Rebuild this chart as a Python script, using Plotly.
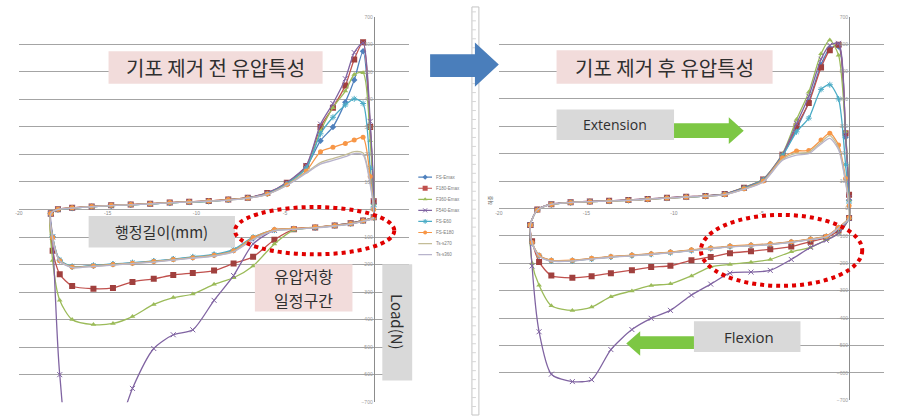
import plotly.graph_objects as go

W, H = 906, 418

# ---------------- data ----------------
series_names = ["FS-Emax", "F180-Emax", "F360-Emax", "F540-Emax", "FS-E60", "FS-E180", "Ts-s270", "Ts-s360"]
series_colors = ["#4F81BD", "#C0504D", "#9BBB59", "#8064A2", "#4BACC6", "#F79646", "#C4BD97", "#B8B4CC"]
series_symbols = ["diamond", "square", "triangle-up", "x-thin-open", "asterisk-open", "circle", None, None]
series_msize = [5, 6, 5, 5, 5, 5, 0, 0]

ext_x = [-18.2, -17.8, -17.0, -15.9, -14.8, -13.7, -12.6, -11.5, -10.4, -9.3, -8.2,
         -7.1, -6.0, -4.9, -3.8, -3.0, -2.3, -1.6, -1.1, -0.6, -0.2, 0.0]
flex_x = [0.0, -0.6, -1.3, -2.2, -3.3, -4.5, -5.6, -6.8, -7.9, -9.0, -10.2,
          -11.3, -12.4, -13.6, -14.7, -15.8, -17.0, -17.7, -18.1, -18.2]

# Left chart (before bubble removal) - extension branch
L_ext_fs_emax = [-15, 0, 5, 10, 14, 17, 20, 24, 27, 30, 35, 42, 58, 95, 155, 250, 300, 390, 470, 575, 300, 20]
L_ext_f180 = [-15, 1, 6, 11, 15, 18, 21, 25, 28, 31, 36, 43, 60, 97, 158, 300, 370, 450, 545, 608, 300, 30]
L_ext_f360 = [-15, 0, 5, 10, 14, 17, 20, 24, 27, 30, 35, 42, 58, 94, 152, 285, 370, 430, 490, 497, 250, 20]
L_ext_f540 = [-15, 1, 6, 11, 15, 18, 21, 25, 28, 31, 36, 43, 60, 98, 160, 310, 385, 475, 570, 605, 320, 30]
L_ext_fs_e60 = [-15, 0, 5, 10, 14, 17, 20, 24, 27, 30, 35, 42, 57, 93, 150, 275, 335, 380, 402, 385, 150, 10]
L_ext_fs_e180 = [-15, 1, 6, 11, 15, 18, 21, 25, 28, 31, 36, 42, 56, 90, 140, 210, 226, 240, 252, 262, 120, 0]
L_ext_ts270 = [-15, 0, 5, 10, 14, 17, 20, 24, 27, 30, 34, 41, 55, 88, 135, 170, 185, 198, 210, 205, 100, 0]
L_ext_ts360 = [-15, 0, 5, 10, 14, 17, 20, 24, 27, 30, 34, 41, 55, 87, 132, 165, 178, 192, 203, 198, 90, -5]

# Left chart - flexion branch
L_flex_fs_emax = [-28, -40, -50, -58, -65, -70, -74, -105, -148, -165, -174, -181, -188, -194, -199, -204, -208, -185, -100, -15]
L_flex_f180 = [-28, -40, -50, -58, -65, -72, -110, -172, -196, -222, -231, -238, -252, -263, -285, -288, -278, -235, -150, -15]
L_flex_f360 = [-28, -40, -50, -58, -66, -75, -125, -205, -248, -272, -307, -320, -345, -389, -414, -418, -400, -330, -185, -15]
L_flex_f540 = [-28, -40, -50, -58, -65, -70, -76, -125, -240, -330, -437, -455, -505, -650, -850, -960, -920, -600, -100, -15]
L_flex_fs_e60 = [-30, -42, -52, -59, -66, -71, -75, -100, -145, -163, -172, -180, -187, -193, -198, -203, -207, -183, -98, -15]
L_flex_fs_e180 = [-30, -41, -51, -58, -64, -69, -73, -102, -150, -166, -175, -182, -189, -195, -200, -205, -209, -186, -102, -15]
L_flex_ts270 = [-30, -42, -52, -59, -66, -71, -76, -108, -152, -168, -176, -183, -190, -196, -201, -206, -210, -187, -104, -15]
L_flex_ts360 = [-30, -43, -53, -60, -67, -72, -77, -110, -154, -169, -177, -184, -191, -197, -202, -207, -211, -188, -105, -15]

# Right chart (after bubble removal) - extension branch
R_ext_fs_emax = [-60, -5, 15, 22, 25, 27, 30, 34, 38, 42, 45, 52, 75, 105, 195, 290, 390, 525, 585, 592, 260, 30]
R_ext_f180 = [-60, -4, 16, 23, 26, 28, 31, 35, 39, 43, 46, 53, 76, 106, 196, 300, 385, 515, 578, 598, 275, 50]
R_ext_f360 = [-60, -5, 15, 22, 25, 27, 30, 34, 38, 42, 45, 53, 77, 108, 200, 325, 425, 565, 615, 560, 280, 30]
R_ext_f540 = [-60, -4, 16, 23, 26, 28, 31, 35, 39, 43, 46, 53, 76, 107, 198, 310, 410, 545, 596, 603, 270, 40]
R_ext_fs_e60 = [-60, -5, 15, 22, 25, 27, 30, 34, 38, 42, 45, 52, 74, 104, 192, 280, 330, 435, 452, 400, 160, 20]
R_ext_fs_e180 = [-60, -5, 15, 22, 25, 27, 30, 34, 38, 42, 45, 51, 72, 100, 185, 210, 212, 250, 275, 232, 110, 10]
R_ext_ts270 = [-60, -5, 15, 22, 25, 27, 30, 34, 38, 42, 45, 51, 71, 98, 180, 202, 206, 242, 266, 222, 100, 5]
R_ext_ts360 = [-60, -5, 15, 22, 25, 27, 30, 34, 38, 42, 45, 51, 70, 97, 176, 195, 200, 236, 256, 215, 95, 0]

# Right chart - flexion branch
R_flex_fs_emax = [-35, -70, -102, -112, -122, -130, -134, -138, -145, -152, -160, -166, -171, -176, -183, -190, -190, -172, -125, -60]
R_flex_f180 = [-35, -80, -106, -121, -139, -149, -156, -163, -177, -189, -209, -214, -225, -236, -247, -253, -245, -195, -120, -60]
R_flex_f360 = [-35, -90, -114, -142, -158, -186, -196, -204, -213, -246, -275, -281, -301, -322, -360, -372, -355, -280, -200, -60]
R_flex_f540 = [-35, -90, -116, -142, -186, -226, -232, -236, -276, -316, -372, -401, -442, -515, -625, -632, -605, -450, -210, -60]
R_flex_fs_e60 = [-36, -72, -103, -113, -123, -131, -135, -139, -146, -153, -161, -167, -172, -177, -184, -191, -191, -173, -126, -60]
R_flex_fs_e180 = [-34, -69, -101, -111, -121, -129, -133, -137, -144, -151, -159, -165, -170, -175, -182, -189, -189, -171, -124, -60]
R_flex_ts270 = [-36, -71, -103, -113, -123, -131, -135, -139, -146, -153, -161, -167, -172, -177, -184, -191, -191, -173, -126, -60]
R_flex_ts360 = [-37, -72, -104, -114, -124, -132, -136, -140, -147, -154, -162, -168, -173, -178, -185, -192, -192, -174, -127, -60]

left_ext = [L_ext_fs_emax, L_ext_f180, L_ext_f360, L_ext_f540, L_ext_fs_e60, L_ext_fs_e180, L_ext_ts270, L_ext_ts360]
left_flex = [L_flex_fs_emax, L_flex_f180, L_flex_f360, L_flex_f540, L_flex_fs_e60, L_flex_fs_e180, L_flex_ts270, L_flex_ts360]
right_ext = [R_ext_fs_emax, R_ext_f180, R_ext_f360, R_ext_f540, R_ext_fs_e60, R_ext_fs_e180, R_ext_ts270, R_ext_ts360]
right_flex = [R_flex_fs_emax, R_flex_f180, R_flex_f360, R_flex_f540, R_flex_fs_e60, R_flex_fs_e180, R_flex_ts270, R_flex_ts360]

y_ticks = list(range(-700, 701, 100))
x_ticks = [-20, -15, -10, -5]
x_tick_text = ["-20", "-15", "-10", "-5"]

title_before = "기포 제거 전 유압특성"
title_after = "기포 제거 후 유압특성"
stroke_label = "행정길이(mm)"
const_label_1 = "유압저항"
const_label_2 = "일정구간"
load_label = "Load(N)"
ext_label = "Extension"
flex_label = "Flexion"
right_ytitle = "하중"


# ---------------- helpers (pixel -> paper) ----------------
def fx(px):
    return px / W


def fy(py):
    return 1 - py / H


def path(points):
    return "M " + " L ".join(f"{fx(a):.5f},{fy(b):.5f}" for a, b in points) + " Z"


fig = go.Figure()


def add_series(xref, yref, ext, flex):
    for i in range(len(series_names)):
        xs = ext_x + flex_x
        ys = ext[i] + flex[i]
        sym = series_symbols[i]
        mode = "lines+markers" if sym else "lines"
        mk = dict(color=series_colors[i], size=series_msize[i])
        if sym:
            mk["symbol"] = sym
            if "open" in sym:
                mk["line"] = dict(color=series_colors[i], width=1)
        if i == 1:
            mk["color"] = "#A0403E"
        fig.add_trace(go.Scatter(
            x=xs, y=ys, xaxis=xref, yaxis=yref, mode=mode,
            line=dict(color=series_colors[i], width=1.3, shape="spline", smoothing=0.7),
            marker=mk, name=series_names[i], showlegend=False, hoverinfo="skip"))


add_series("x", "y", left_ext, left_flex)
add_series("x2", "y2", right_ext, right_flex)

# ---------------- manual legend (left chart) ----------------
for i in range(len(series_names)):
    sym = series_symbols[i]
    row = i + 1
    fig.add_trace(go.Scatter(x=[0.0, 1.0], y=[row, row], xaxis="x3", yaxis="y3", mode="lines",
                             line=dict(color=series_colors[i], width=1.2), showlegend=False, hoverinfo="skip"))
    if sym:
        mk = dict(color=series_colors[i], size=max(series_msize[i] - 1, 3), symbol=sym)
        if "open" in sym:
            mk["line"] = dict(color=series_colors[i], width=1)
        fig.add_trace(go.Scatter(x=[0.5], y=[row], xaxis="x3", yaxis="y3", mode="markers",
                                 marker=mk, showlegend=False, hoverinfo="skip"))

annotations = []
for i, nm in enumerate(series_names):
    annotations.append(dict(xref="paper", yref="y3", x=fx(432), y=i + 1, text=nm, showarrow=False,
                            xanchor="left", yanchor="middle",
                            font=dict(size=4.5, color="#7a7a7a", family="Arial")))

# ---------------- axes ----------------
grid = "#A4A4A4"
common_y = dict(range=[-700, 700], tickvals=y_ticks, showgrid=True, gridcolor=grid, gridwidth=1.2,
                zeroline=False, showline=True, linecolor="#8C8C8C", linewidth=1, ticks="",
                tickfont=dict(size=5, color="#9A9A9A", family="Arial"), anchor="free", fixedrange=True)
common_x = dict(range=[-20, 2], tickvals=x_ticks, ticktext=x_tick_text, showgrid=False, zeroline=False,
                showline=False, ticks="", tickfont=dict(size=5, color="#8A8A8A", family="Arial"),
                anchor="free", fixedrange=True)

left_zero_px = 15 + 20 * (407 - 15) / 22
right_zero_px = 497 + 20 * (884 - 497) / 22

fig.update_layout(
    xaxis=dict(common_x, domain=[fx(15), fx(407)], position=fy(209.5)),
    yaxis=dict(common_y, domain=[fy(405), fy(14)], position=fx(left_zero_px)),
    xaxis2=dict(common_x, domain=[fx(497), fx(884)], position=fy(208.5)),
    yaxis2=dict(common_y, domain=[fy(403), fy(14)], position=fx(right_zero_px)),
    xaxis3=dict(domain=[fx(416), fx(430)], range=[0, 1], visible=False, fixedrange=True),
    yaxis3=dict(domain=[fy(262), fy(170)], range=[8.6, 0.4], visible=False, fixedrange=True),
)

# ---------------- shapes ----------------
shapes = []
shapes.append(dict(type="rect", xref="paper", yref="paper", x0=fx(470), x1=fx(477), y0=fy(418), y1=fy(4),
                   line=dict(color="#C4C4C4", width=1), fillcolor="white", layer="below"))
for k in range(45):
    yy = 9 + k * 9.1
    shapes.append(dict(type="line", xref="paper", yref="paper", x0=fx(470), x1=fx(474), y0=fy(yy), y1=fy(yy),
                       line=dict(color="#D6D6D6", width=1), layer="below"))

shapes.append(dict(type="path", xref="paper", yref="paper",
                   path=path([(428, 52), (473, 52), (473, 40), (497, 62.5), (473, 85), (473, 75), (428, 75)]),
                   fillcolor="#4A7EBB", line=dict(width=0)))

pink = "#F2DCDB"
gray = "#D9D9D9"


def box(x0, y0, x1, y1, color):
    shapes.append(dict(type="rect", xref="paper", yref="paper", x0=fx(x0), x1=fx(x1), y0=fy(y1), y1=fy(y0),
                       fillcolor=color, line=dict(width=0)))


box(105, 49, 320, 82, pink)
box(555, 48, 772, 82, pink)
box(85, 216, 232, 248, gray)
box(252, 265, 350, 313, pink)
box(380, 265, 410, 383, gray)
box(555, 108, 673, 139, gray)
box(693, 323, 800, 354, gray)

green = "#7DC744"
shapes.append(dict(type="path", xref="paper", yref="paper",
                   path=path([(673, 122), (728, 122), (728, 116), (743, 129.5), (728, 143), (728, 137), (673, 137)]),
                   fillcolor=green, line=dict(width=0)))
shapes.append(dict(type="path", xref="paper", yref="paper",
                   path=path([(693, 338), (639, 338), (639, 333), (625, 345.5), (639, 358), (639, 351), (693, 351)]),
                   fillcolor=green, line=dict(width=0)))

for (x0, y0, x1, y1) in [(232, 207, 392, 255), (700, 215, 862, 287)]:
    shapes.append(dict(type="circle", xref="paper", yref="paper", x0=fx(x0), x1=fx(x1), y0=fy(y1), y1=fy(y0),
                       line=dict(color="#E00000", width=4, dash="4px,4px")))

# ---------------- text ----------------
kfont = "Noto Sans CJK KR"
tcol = "#2F2F2F"


def label(xc, yc, text, size, angle=0, family=kfont, color=tcol):
    annotations.append(dict(xref="paper", yref="paper", x=fx(xc), y=fy(yc), text=text, showarrow=False,
                            xanchor="center", yanchor="middle", textangle=angle, borderpad=0,
                            font=dict(size=size, color=color, family=family)))


label(212.5, 65.5, title_before, 20)
label(663.5, 65, title_after, 20)
label(158.5, 232, stroke_label, 15)
label(301, 277, const_label_1, 16)
label(301, 301.5, const_label_2, 16)
label(395, 324, load_label, 15, angle=90)
label(614, 123.5, ext_label, 14, family="Open Sans")
label(748, 338.5, flex_label, 15, family="Open Sans")
label(488, 200, right_ytitle, 5, angle=-90, color="#555555")

fig.update_layout(
    width=W, height=H, margin=dict(l=0, r=0, t=0, b=0, pad=0),
    paper_bgcolor="white", plot_bgcolor="white", showlegend=False,
    shapes=shapes, annotations=annotations,
)

fig.write_html("out.html")
